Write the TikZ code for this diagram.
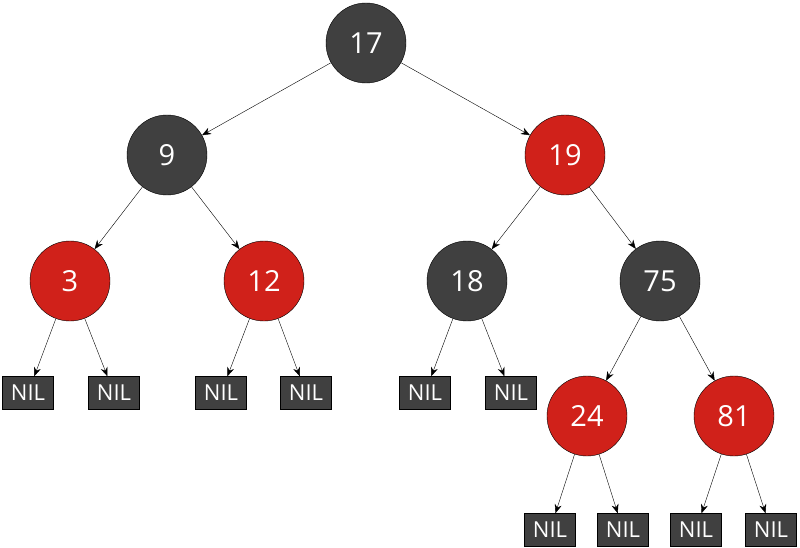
\documentclass[tikz,border=0pt]{standalone}
\usepackage{fontspec}
\setmainfont{Open Sans}
\usetikzlibrary{arrows.meta}
\definecolor{rbblack}{HTML}{404040}
\definecolor{rbred}{HTML}{D0211A}
\begin{document}
\begin{tikzpicture}[x=1pt,y=-1pt]
  \tikzstyle{blk}=[circle,draw=black,fill=rbblack,text=white,minimum size=80pt,inner sep=0,font=\fontsize{29}{34}\selectfont]
  \tikzstyle{red}=[circle,draw=black,fill=rbred,text=white,minimum size=80pt,inner sep=0,font=\fontsize{29}{34}\selectfont]
  \tikzstyle{nil}=[rectangle,draw=black,fill=rbblack,text=white,minimum width=51pt,minimum height=33pt,inner sep=0,font=\fontsize{22}{26}\selectfont]
  \tikzstyle{link}=[-{Stealth[length=9pt,width=7pt]},thin]
  \useasboundingbox (0,0) rectangle (800,548);
  % inner nodes
  \node(n17)[blk] at (366,43) {17};
  \node(n9)[blk] at (167,155) {9};
  \node(n19)[red] at (565,155) {19};
  \node(n3)[red] at (70,281) {3};
  \node(n12)[red] at (264,281) {12};
  \node(n18)[blk] at (467,281) {18};
  \node(n75)[blk] at (660,281) {75};
  \node(n24)[red] at (587,416) {24};
  \node(n81)[red] at (734,416) {81};
  % leaves
  \node(l1)[nil] at (28,393) {NIL};
  \node(l2)[nil] at (114,393) {NIL};
  \node(l3)[nil] at (221,393) {NIL};
  \node(l4)[nil] at (306,393) {NIL};
  \node(l5)[nil] at (425,393) {NIL};
  \node(l6)[nil] at (511,393) {NIL};
  \node(l7)[nil] at (550,530) {NIL};
  \node(l8)[nil] at (623,530) {NIL};
  \node(l9)[nil] at (696,530) {NIL};
  \node(l10)[nil] at (771,530) {NIL};
  \foreach \a/\b in {n17/n9,n17/n19,n9/n3,n9/n12,n19/n18,n19/n75,n75/n24,n75/n81,
    n3/l1,n3/l2,n12/l3,n12/l4,n18/l5,n18/l6,n24/l7,n24/l8,n81/l9,n81/l10}
    \draw[link] (\a) -- (\b);
\end{tikzpicture}
\end{document}
